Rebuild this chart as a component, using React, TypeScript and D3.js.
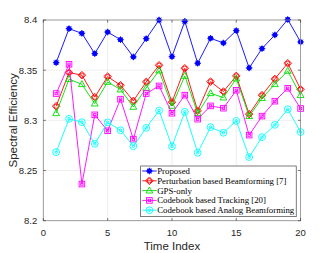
import React from "react";
import * as d3 from "d3";

const timeIndex = [1,2,3,4,5,6,7,8,9,10,11,12,13,14,15,16,17,18,19,20];
const proposed = [8.3575,8.3914,8.3867,8.3665,8.388,8.3804,8.3632,8.3814,8.400,8.3635,8.3987,8.3569,8.3818,8.3771,8.3894,8.3522,8.3715,8.3851,8.4005,8.3781];
const perturbation = [8.3141,8.3476,8.345,8.3231,8.3436,8.335,8.3194,8.3383,8.3549,8.3181,8.3519,8.3095,8.3386,8.3287,8.3443,8.3062,8.3251,8.3413,8.3569,8.331];
const gpsOnly = [8.3071,8.341,8.336,8.3167,8.3383,8.3307,8.3134,8.3323,8.3496,8.3144,8.3443,8.3071,8.327,8.3227,8.3416,8.3042,8.3221,8.336,8.3493,8.3251];
const codebookTracking = [8.3267,8.3559,8.2365,8.3055,8.2896,8.3211,8.2813,8.3267,8.3343,8.3071,8.3251,8.3012,8.3144,8.3121,8.33,8.2853,8.3042,8.3191,8.332,8.3118];
const codebookAnalog = [8.2683,8.3015,8.2982,8.2766,8.298,8.2902,8.2743,8.2925,8.3098,8.274,8.3085,8.2677,8.2932,8.2876,8.2995,8.2634,8.2833,8.2955,8.3111,8.2883];
const xTicks = [0,5,10,15,20];
const yTicks = [8.2,8.25,8.3,8.35,8.4];
const yTickLabels = ["8.2","8.25","8.3","8.35","8.4"];

const seriesNames = ["Proposed","Perturbation based Beamforming [7]","GPS-only","Codebook based Tracking [20]","Codebook based Analog Beamforming"];
const seriesValues = [proposed, perturbation, gpsOnly, codebookTracking, codebookAnalog];
const seriesColors = ["#0000ff","#ff0000","#00dd00","#ff00ff","#00ffff"];
const seriesMarkers = ["star","diamondcircle","triangle","square","circle"];

function Marker({ type, x, y, color }: { type: string; x: number; y: number; color: string }) {
  const r = 3.3;
  if (type === "star") {
    return (
      <g stroke={color} strokeWidth={0.9}>
        <circle cx={x} cy={y} r={2.2} fill={color} />
        <line x1={x - r} y1={y} x2={x + r} y2={y} />
        <line x1={x} y1={y - r} x2={x} y2={y + r} />
        <line x1={x - r * 0.7} y1={y - r * 0.7} x2={x + r * 0.7} y2={y + r * 0.7} />
        <line x1={x - r * 0.7} y1={y + r * 0.7} x2={x + r * 0.7} y2={y - r * 0.7} />
      </g>
    );
  }
  if (type === "diamondcircle") {
    return (
      <g stroke={color} strokeWidth={0.9} fill="none">
        <path d={`M${x},${y - 3.8}L${x + 3.8},${y}L${x},${y + 3.8}L${x - 3.8},${y}Z`} />
        <circle cx={x} cy={y} r={2.2} />
      </g>
    );
  }
  if (type === "triangle") {
    return <path d={`M${x},${y - 3.6}L${x + 3.4},${y + 2.4}L${x - 3.4},${y + 2.4}Z`} stroke={color} strokeWidth={0.9} fill="none" />;
  }
  if (type === "square") {
    return (
      <g stroke={color} strokeWidth={0.9} fill="none">
        <rect x={x - 2.8} y={y - 2.8} width={5.6} height={5.6} />
        <rect x={x - 1.2} y={y - 1.2} width={2.4} height={2.4} />
      </g>
    );
  }
  return (
    <g stroke={color} strokeWidth={0.9} fill="none">
      <circle cx={x} cy={y} r={3.4} />
      <circle cx={x} cy={y} r={1.3} />
    </g>
  );
}

export default function App() {
  const W = 332, H = 253;
  const left = 43.3, right = 300.6, top = 20, bottom = 220.7;
  const x = d3.scaleLinear().domain([0, 20]).range([left, right]);
  const y = d3.scaleLinear().domain([8.2, 8.4]).range([bottom, top]);
  const line = d3.line<number>().x((_, i) => x(timeIndex[i])).y((d) => y(d));
  const axisColor = "#262626";
  const tickLen = 2.6;
  const legX = 140.7, legY = 166, legW = 155.5, legH = 50.7;
  const sans = "Liberation Sans, Arial, sans-serif";
  const serif = "Liberation Serif, 'DejaVu Serif', serif";

  return (
    <svg width={W} height={H} style={{ position: "absolute", left: 0, top: 0, background: "#fff" }}>
      <rect x={0} y={0} width={W} height={H} fill="#fff" />
      {xTicks.map((t) => (
        <line key={"gx" + t} x1={x(t)} x2={x(t)} y1={top} y2={bottom} stroke="#e3e3e3" strokeWidth={0.6} />
      ))}
      {yTicks.map((t) => (
        <line key={"gy" + t} x1={left} x2={right} y1={y(t)} y2={y(t)} stroke="#e3e3e3" strokeWidth={0.6} />
      ))}
      {seriesValues.map((vals, si) => (
        <g key={"s" + si}>
          <path d={line(vals) || ""} fill="none" stroke={seriesColors[si]} strokeWidth={0.9} />
          {vals.map((v, i) => (
            <Marker key={i} type={seriesMarkers[si]} x={x(timeIndex[i])} y={y(v)} color={seriesColors[si]} />
          ))}
        </g>
      ))}
      <rect x={left} y={top} width={right - left} height={bottom - top} fill="none" stroke="#8c8c8c" strokeWidth={0.8} />
      {xTicks.map((t) => (
        <g key={"tx" + t}>
          <line x1={x(t)} x2={x(t)} y1={bottom} y2={bottom - tickLen} stroke={axisColor} strokeWidth={0.6} />
          <line x1={x(t)} x2={x(t)} y1={top} y2={top + tickLen} stroke={axisColor} strokeWidth={0.6} />
          <text x={x(t)} y={bottom + 15} textAnchor="middle" fontFamily={sans} fontSize={9.5} fill={axisColor}>{t}</text>
        </g>
      ))}
      {yTicks.map((t, i) => (
        <g key={"ty" + t}>
          <line x1={left} x2={left + tickLen} y1={y(t)} y2={y(t)} stroke={axisColor} strokeWidth={0.6} />
          <line x1={right} x2={right - tickLen} y1={y(t)} y2={y(t)} stroke={axisColor} strokeWidth={0.6} />
          <text x={left - 6} y={y(t) + 3.4} textAnchor="end" fontFamily={sans} fontSize={9.5} fill={axisColor}>{yTickLabels[i]}</text>
        </g>
      ))}
      <text x={(left + right) / 2} y={250} textAnchor="middle" fontFamily={sans} fontSize={11.5} fill={axisColor}>Time Index</text>
      <text transform={`translate(16.5,${(top + bottom) / 2}) rotate(-90)`} textAnchor="middle" fontFamily={sans} fontSize={11.5} fill={axisColor}>Spectral Efficiency</text>
      <rect x={legX} y={legY} width={legW} height={legH} fill="#fff" stroke={axisColor} strokeWidth={0.6} />
      {seriesNames.map((name, i) => {
        const ly = legY + 5 + i * 9.8;
        return (
          <g key={"l" + i}>
            <line x1={legX + 1.5} x2={legX + 16} y1={ly} y2={ly} stroke={seriesColors[i]} strokeWidth={0.9} />
            <Marker type={seriesMarkers[i]} x={legX + 8.7} y={ly} color={seriesColors[i]} />
            <text x={legX + 16.5} y={ly + 3} fontFamily={serif} fontSize={8.8} fill="#000">{name}</text>
          </g>
        );
      })}
    </svg>
  );
}
